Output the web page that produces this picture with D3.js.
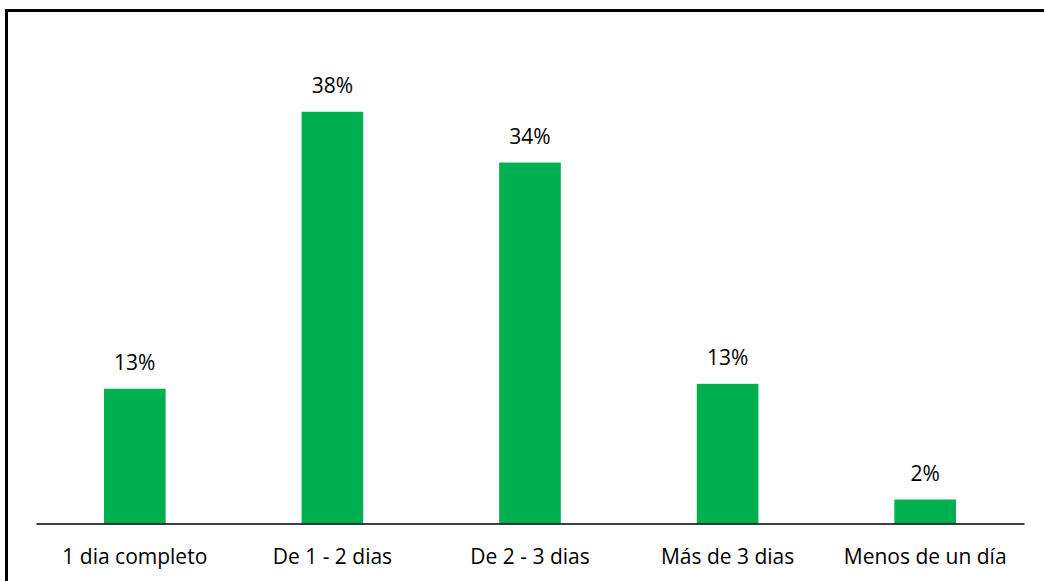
<!DOCTYPE html>
<html>
<head>
<meta charset="utf-8">
<script src="https://cdn.jsdelivr.net/npm/d3@7"></script>
<style>
  html, body { margin: 0; padding: 0; background: #fff; }
  svg { display: block; }
  text { font-family: "Open Sans", sans-serif; fill: #000; }
</style>
</head>
<body>
<svg id="chart" width="1044" height="581"></svg>
<script>
const categories = ["1 dia completo", "De 1 - 2 dias", "De 2 - 3 dias", "Más de 3 dias", "Menos de un día"];
const values = [0.1258, 0.3844, 0.3370, 0.1304, 0.0224];
const valueLabels = ["13%", "38%", "34%", "13%", "2%"];

const W = 1044, H = 581;
const FONT = "'Open Sans', sans-serif";
const svg = d3.select("#chart");

// outer frame (extends beyond right/bottom edges as in the reference)
svg.append("rect")
  .attr("x", 6.5).attr("y", 10.5)
  .attr("width", W + 10).attr("height", H + 10)
  .attr("fill", "none").attr("stroke", "#000").attr("stroke-width", 3);

const baseY = 523.5;
const x = d3.scaleBand().domain(categories).range([36, 1024]).paddingInner(0.688).paddingOuter(0.344);
const y = d3.scaleLinear().domain([0, 0.45]).range([baseY, baseY - 0.45 * 1071.1]);

const data = categories.map((c, i) => ({ c, v: values[i], l: valueLabels[i] }));

svg.selectAll("rect.bar").data(data).enter().append("rect")
  .attr("class", "bar")
  .attr("x", d => x(d.c)).attr("width", x.bandwidth())
  .attr("y", d => y(d.v)).attr("height", d => y(0) - y(d.v))
  .attr("fill", "#00B050");

svg.selectAll("text.val").data(data).enter().append("text")
  .attr("class", "val")
  .attr("x", d => x(d.c) + x.bandwidth() / 2)
  .attr("y", d => y(d.v) - 18.5)
  .attr("text-anchor", "middle")
  .attr("font-size", 21)
  .style("font-family", FONT)
  .text(d => d.l);

const axis = d3.axisBottom(x).tickSize(0).tickPadding(0);
const g = svg.append("g").attr("transform", `translate(0,${baseY})`).call(axis);
g.select(".domain").attr("stroke", "#000").attr("stroke-width", 1.3);
g.selectAll(".tick text")
  .attr("dy", 0).attr("y", 40)
  .attr("font-size", 21)
  .style("font-family", FONT)
  .attr("fill", "#000");
</script>
</body>
</html>
